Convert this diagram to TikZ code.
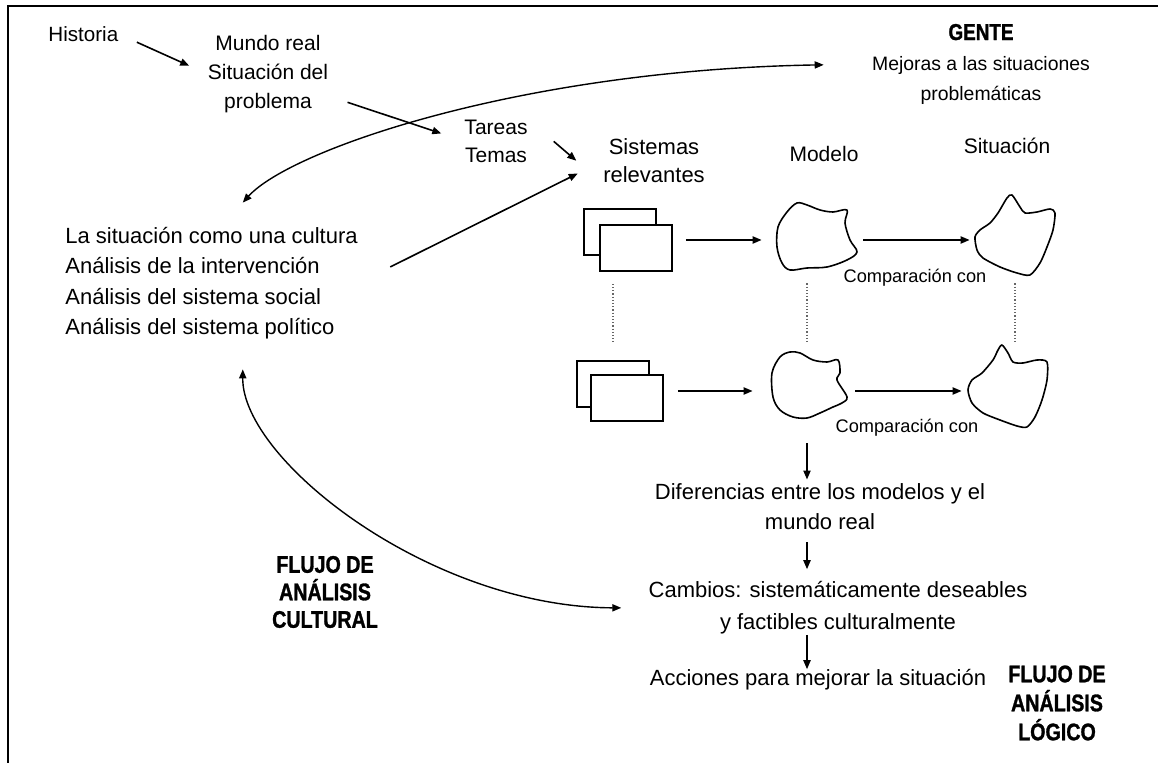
\documentclass[tikz,border=0pt]{standalone}
\usepackage{fontspec}
\setmainfont{Liberation Sans}
\newfontfamily\flujofont{Liberation Sans}[FakeStretch=0.82, BoldFeatures={FakeBold=1.2}]
\usetikzlibrary{arrows.meta}

\begin{document}
\begin{tikzpicture}[x=0.5pt, y=-0.5pt,
        txt/.style={inner sep=0pt, align=center, font=\fontsize{10.5}{14.3}\selectfont},
        big/.style={txt, font=\fontsize{11}{15.2}\selectfont},
        flujo/.style={inner sep=0pt, align=center, font=\flujofont\bfseries\fontsize{12}{13.75}\selectfont},
        arr/.style={arrows={-Triangle[length=4.5pt,width=3.6pt]}, line width=0.8pt},
        arrboth/.style={arrows={Triangle[length=4.5pt,width=3.6pt]-Triangle[length=4.5pt,width=3.6pt]}, line width=0.7pt},
        sbox/.style={draw, line width=0.9pt, fill=white, minimum width=36pt, minimum height=23pt, inner sep=0pt},
        cloudzone/.style={inner sep=0pt, minimum width=35pt, minimum height=33pt},
        cloudline/.style={line width=0.8pt, line join=round},
        dotline/.style={densely dotted, line width=0.6pt, black!60}]
        \useasboundingbox (0,0) rectangle (1158,763);

        % marco
        \draw[line width=1.3pt] (1158,6) -- (8,6) -- (8,763);

        \node[txt, anchor=west, font=\fontsize{10.3}{14}\selectfont] (historia) at (48,34) {Historia};
        \node[txt] (mundo) at (268,74) {Mundo real\\Situación del\\problema};
        \node[txt, font=\fontsize{10.5}{14}\selectfont] (tareas) at (496,141) {Tareas\\Temas};
        \node[big, font=\fontsize{11}{14}\selectfont] (sistemas) at (654,161) {Sistemas\\relevantes};
        \node[txt] (modelo) at (824,154) {Modelo};
        \node[txt] (situacion) at (1007,146) {Situación};
        \node[txt, font=\fontsize{9.7}{15}\selectfont] (gente) at (981,64) {{\flujofont\bfseries\fontsize{11.5}{15}\selectfont GENTE}\\Mejoras a las situaciones\\problemáticas};
        \node[big, anchor=west, align=left] (cultura) at (65,283) {La situación como una cultura\\Análisis de la intervención\\Análisis del sistema social\\Análisis del sistema político};

        % sistemas relevantes
        \node[sbox] (bk1) at (620,232) {};
        \node[sbox] (sr1) at (636,248) {};
        \node[sbox] (bk2) at (613,384) {};
        \node[sbox] (sr2) at (627,398) {};

        % modelos y situaciones
        \node[cloudzone] (m1) at (812,240) {};
        \node[cloudzone] (m2) at (807,391) {};
        \node[cloudzone, minimum width=40pt, minimum height=35pt] (s1) at (1015,240) {};
        \node[cloudzone, minimum width=40pt, minimum height=35pt] (s2) at (1008,391) {};
        \draw[cloudline, shift={(m1)}] plot[smooth cycle, tension=0.55] coordinates {(-34,-13) (-25,-28) (-15,-37) (-5,-35) (8,-30) (21,-28) (35,-30) (33,-17) (38,0) (45,12) (35,20) (15,27) (-5,28) (-22,30) (-30,23) (-35,7)};
        \draw[cloudline, shift={(m2)}] plot[smooth cycle, tension=0.55] coordinates {(-35,-18) (-27,-34) (-17,-39) (-7,-38) (6,-31) (20,-29) (31,-31) (33,-18) (30,-11) (40,6) (35,12) (26,16) (13,22) (0,27) (-14,26) (-27,19) (-34,6)};
        \draw[cloudline, shift={(s1)}] plot[smooth cycle, tension=0.45] coordinates {(-40,-3) (-35,-10) (-25,-17) (-17,-27) (-8,-42) (-3,-45) (5,-33) (10,-27) (22,-28) (35,-31) (40,-27) (38,-10) (32,7) (25,23) (15,35) (2,33) (-15,27) (-32,18) (-38,10)};
        \draw[cloudline, shift={(s2)}] plot[smooth cycle, tension=0.45] coordinates {(-40,-1) (-36,-11) (-26,-18) (-15,-31) (-10,-41) (-6,-46) (0,-38) (5,-29) (15,-28) (29,-31) (39,-29) (39,-11) (34,9) (27,26) (19,36) (9,35) (-8,29) (-25,22) (-36,12)};

        \node[txt, font=\fontsize{9.1}{11}\selectfont] (comp1) at (915,278) {Comparación con};
        \node[txt, font=\fontsize{9.1}{11}\selectfont] (comp2) at (907,428) {Comparación con};

        \node[big, font=\fontsize{11}{15}\selectfont] (dif) at (820,507) {Diferencias entre los modelos y el\\mundo real};
        \node[big, font=\fontsize{11}{16}\selectfont] (cam) at (838,608) {Cambios: sistemáticamente deseables\\y factibles culturalmente};
        \node[big] (acc) at (818,680) {Acciones para mejorar la situación};
        \node[flujo] (fcult) at (325,592) {FLUJO DE\\ANÁLISIS\\CULTURAL};
        \node[flujo, font=\flujofont\bfseries\fontsize{12}{14.5}\selectfont] (flog) at (1057,703) {FLUJO DE\\ANÁLISIS\\LÓGICO};

        \draw[arr, shorten <=10pt, shorten >=10pt] (historia.east) -- (mundo.west);
        \draw[arr, shorten <=10pt, shorten >=12pt] (mundo.-20) -- (tareas.west);
        \draw[arr, shorten <=17pt, shorten >=17.5pt] (tareas.north east) -- (sistemas.south west);
        \draw[arr, shorten <=18pt, shorten >=14pt] (cultura.east) -- (sistemas.west);
        \draw[arrboth, shorten >=24pt] ([yshift=12pt]cultura.61) .. controls (290,150) and (520,70) .. (gente.west);
        \draw[arrboth, shorten >=13.5pt] ([yshift=-15pt]cultura.-61) .. controls (242,460) and (430,607) .. (cam.west);

        \draw[arr, shorten <=6.5pt, shorten >=7.5pt] (sr1.east |- m1.west) -- (m1.west);
        \draw[arr, shorten <=8pt, shorten >=2.5pt] (m1.east) -- (s1.west);
        \draw[arr, shorten <=7pt, shorten >=9.5pt] (sr2.east |- m2.west) -- (m2.west);
        \draw[arr, shorten <=6.5pt, shorten >=3pt] (m2.east) -- (s2.west);

        \draw[dotline, shorten <=6pt, shorten >=9pt] (bk2.north |- sr1.south) -- (bk2.north);
        \draw[dotline, shorten <=5pt, shorten >=8pt] (m2.north |- m1.south) -- (m2.north);
        \draw[dotline, shorten <=4pt, shorten >=7pt] (s1.south) -- (s1.south |- s2.north);

        \draw[arr, shorten <=9.5pt, shorten >=2pt] (m2.south) -- (m2.south |- dif.north);
        \draw[arr, shorten <=6pt, shorten >=6pt] (m2.south |- dif.south) -- (m2.south |- cam.north);
        \draw[arr] (m2.south |- cam.south) -- (m2.south |- acc.north);
    \end{tikzpicture}
\end{document}
